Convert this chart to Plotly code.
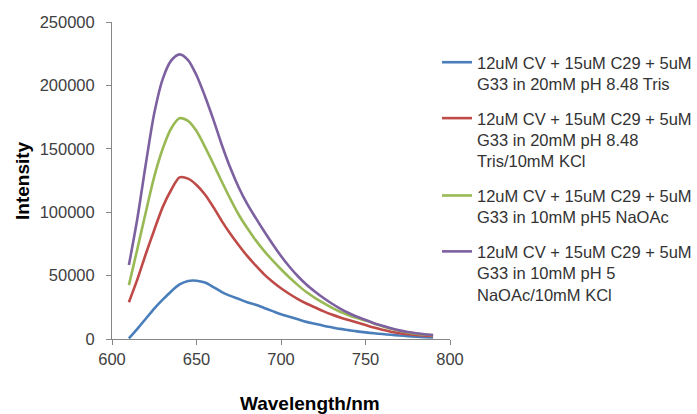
import plotly.graph_objects as go

wavelength = list(range(610, 795, 5))

blue = [500, 8000, 16000, 24000, 31000, 37500, 43000, 45800, 46000, 44500,
        41000, 37000, 34000, 31500, 29000, 27000, 24500, 22000, 19500, 17500,
        15500, 13500, 12000, 10500, 9200, 8000, 7000, 6000, 5200, 4500,
        3900, 3300, 2800, 2300, 1900, 1500, 1200]
red = [29000, 47000, 67000, 86000, 104000, 117500, 127500, 126500, 121500, 114000,
       104000, 93000, 83000, 74000, 65500, 58000, 51000, 45200, 40000, 35500,
       31500, 28000, 25000, 22000, 19300, 17000, 15000, 13000, 11000, 9000,
       7300, 5800, 4600, 3800, 3100, 2700, 2400]
green = [42500, 71000, 100000, 128000, 150000, 166000, 174000, 172000, 164000, 151500,
         138000, 124000, 110500, 98000, 87500, 78000, 69500, 62000, 55000, 48500,
         42500, 37000, 32500, 28500, 24800, 21500, 18800, 16500, 14500, 12300,
         10000, 8000, 6500, 5200, 4200, 3500, 3000]
purple = [58300, 95000, 138000, 178000, 205000, 219500, 224500, 220000, 208000, 191500,
          173000, 153000, 135000, 119500, 106500, 95500, 85000, 75000, 65500, 57000,
          49500, 43000, 37500, 32500, 28000, 24000, 20500, 17500, 15000, 12500,
          10500, 8500, 6800, 5500, 4500, 3700, 3100]

names = [
    "12uM CV + 15uM C29 + 5uM<br>G33 in 20mM pH 8.48 Tris",
    "12uM CV + 15uM C29 + 5uM<br>G33 in 20mM pH 8.48<br>Tris/10mM KCl",
    "12uM CV + 15uM C29 + 5uM<br>G33 in 10mM pH5 NaOAc",
    "12uM CV + 15uM C29 + 5uM<br>G33 in 10mM pH 5<br>NaOAc/10mM KCl",
]
series = [blue, red, green, purple]
colors = ["#4A7EBB", "#BE4B48", "#98B954", "#7D60A0"]

x_ticks = [600, 650, 700, 750, 800]
y_ticks = [0, 50000, 100000, 150000, 200000, 250000]

fig = go.Figure()
for i, (nm, ys, c) in enumerate(zip(names, series, colors)):
    fig.add_trace(go.Scatter(x=wavelength, y=ys, name=nm, mode="lines",
                             line=dict(color=c, width=2.6, shape="spline", smoothing=0.8),
                             legendgroup=str(i)))

W, H = 697, 414
L, R, T, B = 112, 247, 22, 75
pw, ph = W - L - R, H - T - B

def px(x):
    return (x - L) / pw

def py(y):
    return (H - B - y) / ph

fig.update_layout(
    width=W, height=H,
    margin=dict(l=L, r=R, t=T, b=B, autoexpand=False),
    paper_bgcolor="white", plot_bgcolor="white",
    font=dict(family="Liberation Sans, Arial, sans-serif", color="#404040", size=16),
    showlegend=True,
    legend=dict(x=px(437), y=py(45), xanchor="left", yanchor="top",
                font=dict(size=16.5, color="#333333"),
                tracegroupgap=10, valign="top", bgcolor="rgba(0,0,0,0)"),
    xaxis=dict(range=[600, 800], tickvals=x_ticks, ticktext=[str(v) for v in x_ticks],
               showline=True, linecolor="#868686", linewidth=1, showgrid=False,
               zeroline=False, ticks="outside", ticklen=5, tickcolor="#868686",
               tickfont=dict(size=16.5, color="#404040")),
    yaxis=dict(range=[0, 250000], tickvals=y_ticks, ticktext=[str(v) for v in y_ticks],
               showline=True, linecolor="#868686", linewidth=1, showgrid=False,
               zeroline=False, ticks="outside", ticklen=5, tickcolor="#868686",
               tickfont=dict(size=16.5, color="#404040"), ticklabelstandoff=8),
    annotations=[
        dict(text="<b>Intensity</b>", x=px(22), y=py(180), xref="paper", yref="paper",
             xanchor="center", yanchor="middle",
             textangle=-90, showarrow=False, font=dict(size=19, color="#000000")),
        dict(text="<b>Wavelength/nm</b>", x=px(310), y=py(403), xref="paper", yref="paper",
             xanchor="center", yanchor="middle",
             showarrow=False, font=dict(size=19, color="#000000")),
    ],
)

fig.write_html("out.html")
